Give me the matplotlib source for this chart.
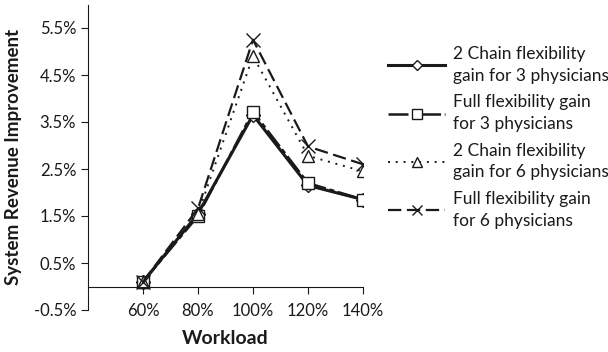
import matplotlib
matplotlib.use("Agg")
import matplotlib.pyplot as plt
from matplotlib.ticker import FuncFormatter

plt.rcParams['font.family'] = ['Lato', 'DejaVu Sans']

workload = ["60%", "80%", "100%", "120%", "140%"]
chain2_3 = [0.10, 1.55, 3.65, 2.15, 1.85]
full_3 = [0.10, 1.50, 3.72, 2.20, 1.85]
chain2_6 = [0.10, 1.55, 4.90, 2.78, 2.45]
full_6 = [0.10, 1.66, 5.25, 2.98, 2.60]

labels = ["2 Chain flexibility\ngain for 3 physicians",
          "Full flexibility gain\nfor 3 physicians",
          "2 Chain flexibility\ngain for 6 physicians",
          "Full flexibility gain\nfor 6 physicians"]
yticks = [-0.5, 0.5, 1.5, 2.5, 3.5, 4.5, 5.5]

ink = "#1a1a1a"
fig = plt.figure(figsize=(6.08, 3.52), dpi=100)
ax = fig.add_axes([88/608, 1 - 310/352, 275/608, 305.5/352])

x = list(range(1, len(workload) + 1))
mk = dict(markerfacecolor="white", markeredgecolor=ink, markeredgewidth=1.0, color=ink)

ax.plot(x, chain2_3, linestyle="-", linewidth=2.2, marker="D", markersize=7, label=labels[0], **mk)
ax.plot(x, full_3, linestyle=(0, (8, 1.5, 2, 1.5)), linewidth=1.8, marker="s", markersize=9, label=labels[1], **mk)
ax.plot(x, chain2_6, linestyle=(0, (1, 3)), linewidth=1.4, marker="^", markersize=9, label=labels[2], **mk)
ax.plot(x, full_6, linestyle=(0, (6, 2.5)), linewidth=1.6, marker="x", markersize=10, label=labels[3], **mk)

ax.set_xlim(0, 5)
ax.set_ylim(-0.5, 6.0)
ax.set_yticks(yticks)
ax.yaxis.set_major_formatter(FuncFormatter(lambda v, p: f"{v:.1f}%"))
ax.set_xticks(x)
ax.set_xticklabels(workload)

for s in ["top", "right"]:
    ax.spines[s].set_visible(False)
ax.spines["bottom"].set_position(("data", 0))
ax.spines["left"].set_color(ink)
ax.spines["bottom"].set_color(ink)
ax.tick_params(axis="both", labelsize=12, colors=ink, length=5, direction="out")
ax.tick_params(axis="x", pad=7)

ax.set_ylabel("System Revenue Improvement", fontsize=13.5, fontweight="bold", color=ink)
ax.yaxis.set_label_coords(-(88 - 22) / 275, 0.5)
ax.set_xlabel("Workload", fontsize=14, fontweight="bold", color=ink)
ax.xaxis.set_label_coords(0.5, -28 / 305.5)
ax.xaxis.label.set_va("center")

leg = fig.legend(loc="upper left", bbox_to_anchor=(388/608, 1 - 46/352), frameon=False,
                 fontsize=12.5, handlelength=3.3, labelspacing=0.6, handletextpad=0.45,
                 markerscale=0.75, borderaxespad=0, borderpad=0)
for t in leg.get_texts():
    t.set_color(ink)
    t.set_linespacing(1.45)

fig.savefig("out.png", dpi=100)
